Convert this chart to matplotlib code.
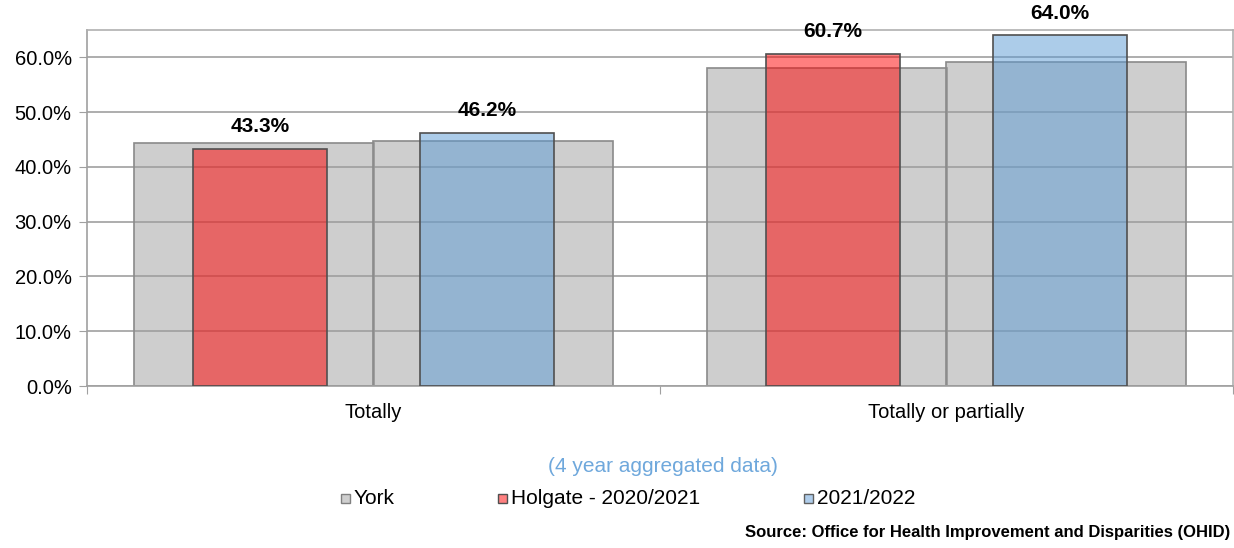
import matplotlib
matplotlib.use("Agg")
import matplotlib.pyplot as plt
from matplotlib.patches import Rectangle
from matplotlib.colors import to_rgba

categories = ["Totally", "Totally or partially"]
york_2021 = [44.4, 58.1]
york_2122 = [44.8, 59.2]
holgate_2021 = [43.3, 60.7]
holgate_2122 = [46.2, 64.0]
yticks = [0, 10, 20, 30, 40, 50, 60]
legend_labels = ["York", "Holgate - 2020/2021", "2021/2022"]

plt.rcParams['font.family'] = ['Liberation Sans', 'DejaVu Sans']

fig = plt.figure(figsize=(12.34, 5.48), dpi=100)
ax = fig.add_axes([87/1234, 1-386/548, (1233-87)/1234, (386-30)/548])

x = list(range(len(categories)))
yw = 0.419
hw = 0.234
yoff = 0.209
hoff = 0.198

grey_face = to_rgba("#9F9F9F", 0.5)
red_face = to_rgba("#FF0000", 0.5)
blue_face = to_rgba("#5B9BD5", 0.5)

ax.bar([i - yoff for i in x], york_2021, width=yw, color=grey_face,
       edgecolor="#8A8A8A", linewidth=1.2, zorder=2)
ax.bar([i + yoff for i in x], york_2122, width=yw, color=grey_face,
       edgecolor="#8A8A8A", linewidth=1.2, zorder=2)
b1 = ax.bar([i - hoff for i in x], holgate_2021, width=hw, color=red_face,
            edgecolor="#505050", linewidth=1.2, zorder=3)
b2 = ax.bar([i + hoff for i in x], holgate_2122, width=hw, color=blue_face,
            edgecolor="#505050", linewidth=1.2, zorder=3)

for bars, vals in ((b1, holgate_2021), (b2, holgate_2122)):
    for r, v in zip(bars, vals):
        ax.annotate(f"{v:.1f}%", (r.get_x() + r.get_width()/2, v),
                    xytext=(0, 9), textcoords="offset points",
                    ha="center", va="bottom", fontsize=15, fontweight="bold",
                    color="black", zorder=5)

ax.set_xlim(-0.5, len(categories) - 0.5)
ax.set_ylim(0, 65)
ax.set_yticks(yticks)
ax.set_yticklabels([f"{t:.1f}%" for t in yticks], fontsize=14.5)
ax.yaxis.grid(True, color="#A0A0A0", linewidth=1.2, zorder=1)
ax.set_axisbelow(True)

ax.set_xticks([-0.5, 0.5, 1.5])
ax.set_xticklabels([])
ax.tick_params(axis="x", direction="out", length=6, color="#A0A0A0")
ax.tick_params(axis="y", direction="out", length=6, color="#A0A0A0", pad=5)
for i, c in enumerate(categories):
    ax.text(i, -4.8, c, ha="center", va="center", fontsize=14.5)

for s in ax.spines.values():
    s.set_color("#B0B0B0")
    s.set_linewidth(1.2)
ax.spines["left"].set_color("#A0A0A0")
ax.spines["bottom"].set_color("#A0A0A0")

fig.text(663/1234, 1-467/548, "(4 year aggregated data)", ha="center",
         va="center", fontsize=15, color="#6FA8DC")

legend_faces = ["#CFCFCF", "#FF8080", "#AFCDEB"]
legend_edges = ["#808080", "#505050", "#606060"]
legend_x = [341, 498, 804]
for lx, lab, fc, ec in zip(legend_x, legend_labels, legend_faces, legend_edges):
    fig.patches.append(Rectangle((lx/1234, 1-503/548), 9/1234, 9/548,
                                 transform=fig.transFigure, facecolor=fc,
                                 edgecolor=ec, linewidth=1))
    fig.text((lx + 13)/1234, 1-498/548, lab, ha="left", va="center",
             fontsize=15, color="black")

fig.text(745/1234, 1-533/548,
         "Source: Office for Health Improvement and Disparities (OHID)",
         ha="left", va="center", fontsize=12, fontweight="bold", color="black")

fig.savefig("out.png", dpi=100)
